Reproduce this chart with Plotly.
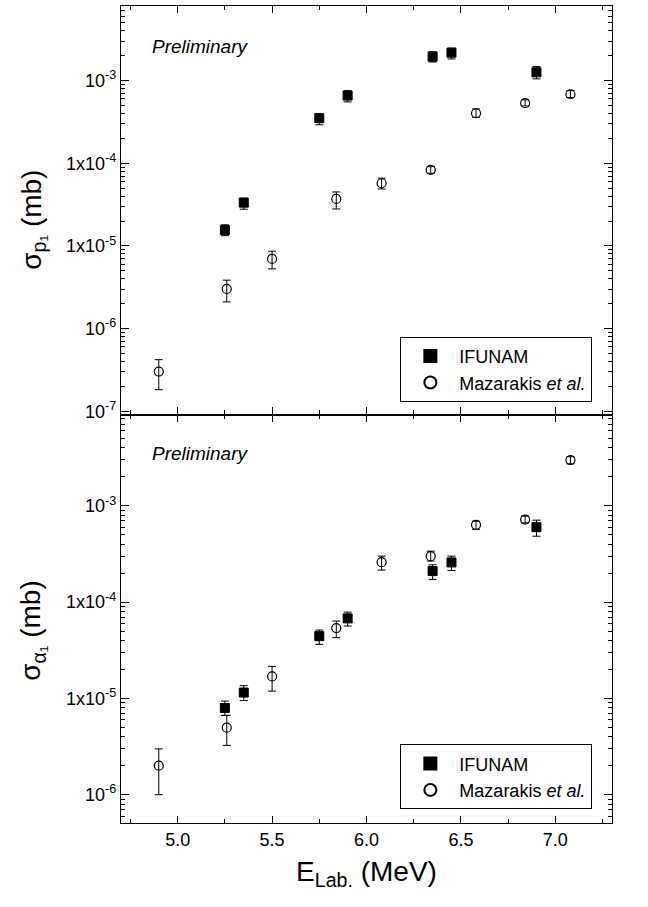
import plotly.graph_objects as go
from plotly.subplots import make_subplots

# ---- data: proton channel (p1) ----
p_ifu_x = [5.25, 5.35, 5.75, 5.90, 6.35, 6.45, 6.90]
p_ifu_y = [1.56e-5, 3.34e-5, 3.51e-4, 6.59e-4, 1.95e-3, 2.18e-3, 1.26e-3]
p_ifu_hi = [1.8e-5, 3.78e-5, 3.96e-4, 7.57e-4, 2.24e-3, 2.47e-3, 1.48e-3]
p_ifu_lo = [1.33e-5, 2.78e-5, 2.92e-4, 5.53e-4, 1.68e-3, 1.83e-3, 1.05e-3]

p_maz_x = [4.90, 5.26, 5.50, 5.84, 6.08, 6.34, 6.58, 6.84, 7.08]
p_maz_y = [3.02e-7, 3.02e-6, 6.96e-6, 3.7e-5, 5.73e-5, 8.3e-5, 4.03e-4, 5.33e-4, 6.84e-4]
p_maz_hi = [4.2e-7, 3.85e-6, 8.63e-6, 4.5e-5, 6.6e-5, 9.1e-5, 4.55e-4, 5.85e-4, 7.57e-4]
p_maz_lo = [1.82e-7, 2.1e-6, 5.27e-6, 2.8e-5, 4.89e-5, 7.57e-5, 3.6e-4, 4.94e-4, 6.24e-4]

# ---- data: alpha channel (alpha1) ----
a_ifu_x = [5.25, 5.35, 5.75, 5.90, 6.35, 6.45, 6.90]
a_ifu_y = [7.94e-6, 1.15e-5, 4.43e-5, 6.77e-5, 2.1e-4, 2.58e-4, 6.0e-4]
a_ifu_hi = [9.38e-6, 1.355e-5, 5.12e-5, 7.87e-5, 2.44e-4, 3.0e-4, 7.09e-4]
a_ifu_lo = [6.66e-6, 9.5e-6, 3.64e-5, 5.64e-5, 1.72e-4, 2.13e-4, 4.83e-4]

a_maz_x = [4.90, 5.26, 5.50, 5.84, 6.08, 6.34, 6.58, 6.84, 7.08]
a_maz_y = [2.0e-6, 4.97e-6, 1.69e-5, 5.37e-5, 2.6e-4, 3.0e-4, 6.35e-4, 7.2e-4, 2.98e-3]
a_maz_hi = [2.99e-6, 6.66e-6, 2.15e-5, 6.35e-5, 3.0e-4, 3.38e-4, 6.92e-4, 7.8e-4, 3.23e-3]
a_maz_lo = [1.0e-6, 3.25e-6, 1.19e-5, 4.27e-5, 2.15e-4, 2.67e-4, 5.68e-4, 6.65e-4, 2.73e-3]

# ---- tick labels ----
top_tickvals = [1e-7, 1e-6, 1e-5, 1e-4, 1e-3]
top_ticktext = ["10<sup>-7</sup>", "10<sup>-6</sup>", "1x10<sup>-5</sup>", "1x10<sup>-4</sup>", "10<sup>-3</sup>"]
bot_tickvals = [1e-6, 1e-5, 1e-4, 1e-3]
bot_ticktext = ["10<sup>-6</sup>", "1x10<sup>-5</sup>", "1x10<sup>-4</sup>", "10<sup>-3</sup>"]

FONT = "Arial, Liberation Sans, Helvetica, sans-serif"


def minor_vals(lo_exp, hi_exp):
    out = []
    for e in range(lo_exp, hi_exp + 1):
        for k in range(2, 10):
            out.append(k * 10.0 ** e)
    return out


def errs(y, hi, lo):
    return [h - v for v, h in zip(y, hi)], [v - l for v, l in zip(y, lo)]


fig = make_subplots(rows=2, cols=1, shared_xaxes=True, vertical_spacing=0)

sq = dict(symbol="square", size=9, color="black", line=dict(color="black", width=1))
ci = dict(symbol="circle-open", size=9, color="black", line=dict(color="black", width=1.2))


def add(x, y, hi, lo, name, marker, row, legend, show=True):
    up, dn = errs(y, hi, lo)
    fig.add_trace(go.Scatter(
        x=x, y=y, mode="markers", name=name, marker=marker,
        error_y=dict(type="data", array=up, arrayminus=dn, color="black",
                     thickness=1, width=4, visible=True),
        legend=legend, showlegend=show), row=row, col=1)


add(p_ifu_x, p_ifu_y, p_ifu_hi, p_ifu_lo, "IFUNAM", sq, 1, "legend")
add(p_maz_x, p_maz_y, p_maz_hi, p_maz_lo, "Mazarakis <i>et al.</i>", ci, 1, "legend")
add(a_ifu_x, a_ifu_y, a_ifu_hi, a_ifu_lo, "IFUNAM", sq, 2, "legend2")
add(a_maz_x, a_maz_y, a_maz_hi, a_maz_lo, "Mazarakis <i>et al.</i>", ci, 2, "legend2")

xcommon = dict(range=[4.7, 7.3], tick0=5.0, dtick=0.5, tickformat=".1f",
               ticks="inside", ticklen=7, automargin=False,
               tickwidth=1.2, tickcolor="black", showline=True, linecolor="black",
               linewidth=1.2, mirror="allticks", showgrid=False, zeroline=False,
               minor=dict(ticks="inside", dtick=0.25, tick0=4.75, ticklen=4,
                          tickwidth=1.2, tickcolor="black", showgrid=False),
               tickfont=dict(family=FONT, size=18, color="black"))
fig.update_xaxes(**xcommon, row=1, col=1)
fig.update_xaxes(**xcommon, row=2, col=1,
                 title=dict(text="E<sub>Lab.</sub> (MeV)",
                            font=dict(family=FONT, size=28, color="black"), standoff=12))

ycommon = dict(type="log", ticks="inside", ticklen=8, tickwidth=1.2, tickcolor="black",
               showline=True, linecolor="black", linewidth=1.2, mirror="allticks",
               showgrid=False, zeroline=False, tickmode="array", automargin=False,
               tickfont=dict(family=FONT, size=18, color="black"))
fig.update_yaxes(**ycommon, row=1, col=1, range=[-7.04, -2.097],
                 tickvals=top_tickvals, ticktext=top_ticktext,
                 minor=dict(ticks="inside", tickmode="array", tickvals=minor_vals(-8, -3),
                            ticklen=4, tickwidth=1, tickcolor="black", showgrid=False))
fig.update_yaxes(**ycommon, row=2, col=1, range=[-6.294, -2.052],
                 tickvals=bot_tickvals, ticktext=bot_ticktext,
                 minor=dict(ticks="inside", tickmode="array", tickvals=minor_vals(-7, -3),
                            ticklen=4, tickwidth=1, tickcolor="black", showgrid=False))

leg = dict(xanchor="right", yanchor="top", bordercolor="black", borderwidth=1,
           bgcolor="white", font=dict(family=FONT, size=18, color="black"),
           tracegroupgap=0, itemsizing="constant", itemwidth=48)
fig.update_layout(
    width=648, height=907,
    margin=dict(l=121, r=36, t=6, b=84),
    paper_bgcolor="white", plot_bgcolor="white",
    font=dict(family=FONT, color="black"),
    legend=dict(**leg, x=0.96, y=0.595),
    legend2=dict(**leg, x=0.96, y=0.0963),
)

# y-axis titles (rotated)
fig.add_annotation(text="σ<sub>p₁</sub> (mb)", xref="paper", yref="paper",
                   x=-0.18, y=0.738, textangle=-90, showarrow=False,
                   xanchor="center", yanchor="middle",
                   font=dict(family=FONT, size=28, color="black"))
fig.add_annotation(text="σ<sub>α₁</sub> (mb)", xref="paper", yref="paper",
                   x=-0.18, y=0.236, textangle=-90, showarrow=False,
                   xanchor="center", yanchor="middle",
                   font=dict(family=FONT, size=28, color="black"))

for yref in ["y domain", "y2 domain"]:
    fig.add_annotation(text="<i>Preliminary</i>", xref="x domain", yref=yref,
                       x=0.06, y=0.9 if yref == "y domain" else 0.905,
                       xanchor="left", yanchor="middle", showarrow=False,
                       font=dict(family=FONT, size=19, color="black"))

fig.write_html("out.html", config={"displayModeBar": False},
               post_script="document.body.style.margin='0';document.body.style.overflow='hidden';")
